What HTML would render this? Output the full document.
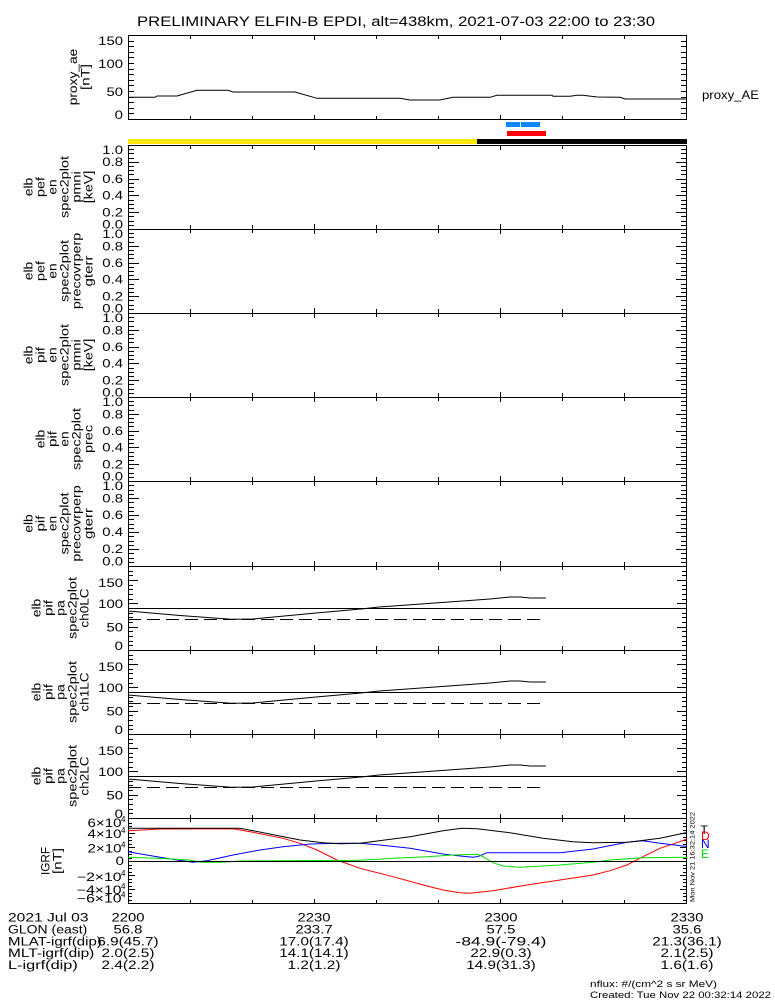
<!DOCTYPE html>
<html><head><meta charset="utf-8"><style>
html,body{margin:0;padding:0;background:#fff;}
svg{display:block;}
text{font-family:"Liberation Sans",sans-serif;fill:#000;}
</style></head><body>
<svg width="775" height="1000" viewBox="0 0 775 1000" xmlns="http://www.w3.org/2000/svg">
<rect width="775" height="1000" fill="#fff"/>

<!-- title -->
<text x="137" y="26" font-size="13.5" textLength="518" lengthAdjust="spacingAndGlyphs">PRELIMINARY ELFIN-B EPDI, alt=438km, 2021-07-03 22:00 to 23:30</text>

<!-- frames -->
<g fill="none" stroke="#000" stroke-width="1" shape-rendering="crispEdges">
<rect x="128.5" y="35.5" width="558" height="84"/>
<rect x="128.5" y="145.5" width="558" height="84"/>
<rect x="128.5" y="229.5" width="558" height="84"/>
<rect x="128.5" y="313.5" width="558" height="84"/>
<rect x="128.5" y="397.5" width="558" height="84"/>
<rect x="128.5" y="481.5" width="558" height="85"/>
<rect x="128.5" y="566.5" width="558" height="84"/>
<rect x="128.5" y="650.5" width="558" height="84"/>
<rect x="128.5" y="734.5" width="558" height="84"/>
<rect x="128.5" y="818.5" width="558" height="85"/>
</g>

<!-- ticks as rects -->
<g fill="#000" shape-rendering="crispEdges">
<!-- top panel y ticks -->
<rect x="128" y="41" width="6" height="1"/><rect x="681" y="41" width="6" height="1"/>
<rect x="128" y="46" width="6" height="1"/><rect x="681" y="46" width="6" height="1"/>
<rect x="128" y="52" width="6" height="1"/><rect x="681" y="52" width="6" height="1"/>
<rect x="128" y="57" width="6" height="1"/><rect x="681" y="57" width="6" height="1"/>
<rect x="128" y="63" width="6" height="1"/><rect x="681" y="63" width="6" height="1"/>
<rect x="128" y="69" width="6" height="1"/><rect x="681" y="69" width="6" height="1"/>
<rect x="128" y="74" width="6" height="1"/><rect x="681" y="74" width="6" height="1"/>
<rect x="128" y="80" width="6" height="1"/><rect x="681" y="80" width="6" height="1"/>
<rect x="128" y="85" width="6" height="1"/><rect x="681" y="85" width="6" height="1"/>
<rect x="128" y="91" width="6" height="1"/><rect x="681" y="91" width="6" height="1"/>
<rect x="128" y="97" width="6" height="1"/><rect x="681" y="97" width="6" height="1"/>
<rect x="128" y="102" width="6" height="1"/><rect x="681" y="102" width="6" height="1"/>
<rect x="128" y="108" width="6" height="1"/><rect x="681" y="108" width="6" height="1"/>
<rect x="128" y="113" width="6" height="1"/><rect x="681" y="113" width="6" height="1"/>

<!-- spec panel 1 -->
<rect x="128" y="149" width="6" height="1"/><rect x="681" y="149" width="6" height="1"/>
<rect x="128" y="153" width="6" height="1"/><rect x="681" y="153" width="6" height="1"/>
<rect x="128" y="158" width="6" height="1"/><rect x="681" y="158" width="6" height="1"/>
<rect x="128" y="166" width="6" height="1"/><rect x="681" y="166" width="6" height="1"/>
<rect x="128" y="170" width="6" height="1"/><rect x="681" y="170" width="6" height="1"/>
<rect x="128" y="174" width="6" height="1"/><rect x="681" y="174" width="6" height="1"/>
<rect x="128" y="183" width="6" height="1"/><rect x="681" y="183" width="6" height="1"/>
<rect x="128" y="187" width="6" height="1"/><rect x="681" y="187" width="6" height="1"/>
<rect x="128" y="191" width="6" height="1"/><rect x="681" y="191" width="6" height="1"/>
<rect x="128" y="200" width="6" height="1"/><rect x="681" y="200" width="6" height="1"/>
<rect x="128" y="204" width="6" height="1"/><rect x="681" y="204" width="6" height="1"/>
<rect x="128" y="208" width="6" height="1"/><rect x="681" y="208" width="6" height="1"/>
<rect x="128" y="216" width="6" height="1"/><rect x="681" y="216" width="6" height="1"/>
<rect x="128" y="221" width="6" height="1"/><rect x="681" y="221" width="6" height="1"/>
<rect x="128" y="225" width="6" height="1"/><rect x="681" y="225" width="6" height="1"/>
<rect x="128" y="162" width="11" height="1"/><rect x="676" y="162" width="11" height="1"/>
<rect x="128" y="179" width="11" height="1"/><rect x="676" y="179" width="11" height="1"/>
<rect x="128" y="195" width="11" height="1"/><rect x="676" y="195" width="11" height="1"/>
<rect x="128" y="212" width="11" height="1"/><rect x="676" y="212" width="11" height="1"/>

<!-- spec panel 2 -->
<rect x="128" y="233" width="6" height="1"/><rect x="681" y="233" width="6" height="1"/>
<rect x="128" y="237" width="6" height="1"/><rect x="681" y="237" width="6" height="1"/>
<rect x="128" y="242" width="6" height="1"/><rect x="681" y="242" width="6" height="1"/>
<rect x="128" y="250" width="6" height="1"/><rect x="681" y="250" width="6" height="1"/>
<rect x="128" y="254" width="6" height="1"/><rect x="681" y="254" width="6" height="1"/>
<rect x="128" y="258" width="6" height="1"/><rect x="681" y="258" width="6" height="1"/>
<rect x="128" y="267" width="6" height="1"/><rect x="681" y="267" width="6" height="1"/>
<rect x="128" y="271" width="6" height="1"/><rect x="681" y="271" width="6" height="1"/>
<rect x="128" y="275" width="6" height="1"/><rect x="681" y="275" width="6" height="1"/>
<rect x="128" y="284" width="6" height="1"/><rect x="681" y="284" width="6" height="1"/>
<rect x="128" y="288" width="6" height="1"/><rect x="681" y="288" width="6" height="1"/>
<rect x="128" y="292" width="6" height="1"/><rect x="681" y="292" width="6" height="1"/>
<rect x="128" y="300" width="6" height="1"/><rect x="681" y="300" width="6" height="1"/>
<rect x="128" y="305" width="6" height="1"/><rect x="681" y="305" width="6" height="1"/>
<rect x="128" y="309" width="6" height="1"/><rect x="681" y="309" width="6" height="1"/>
<rect x="128" y="246" width="11" height="1"/><rect x="676" y="246" width="11" height="1"/>
<rect x="128" y="263" width="11" height="1"/><rect x="676" y="263" width="11" height="1"/>
<rect x="128" y="279" width="11" height="1"/><rect x="676" y="279" width="11" height="1"/>
<rect x="128" y="296" width="11" height="1"/><rect x="676" y="296" width="11" height="1"/>

<!-- spec panel 3 -->
<rect x="128" y="317" width="6" height="1"/><rect x="681" y="317" width="6" height="1"/>
<rect x="128" y="321" width="6" height="1"/><rect x="681" y="321" width="6" height="1"/>
<rect x="128" y="326" width="6" height="1"/><rect x="681" y="326" width="6" height="1"/>
<rect x="128" y="334" width="6" height="1"/><rect x="681" y="334" width="6" height="1"/>
<rect x="128" y="338" width="6" height="1"/><rect x="681" y="338" width="6" height="1"/>
<rect x="128" y="342" width="6" height="1"/><rect x="681" y="342" width="6" height="1"/>
<rect x="128" y="351" width="6" height="1"/><rect x="681" y="351" width="6" height="1"/>
<rect x="128" y="355" width="6" height="1"/><rect x="681" y="355" width="6" height="1"/>
<rect x="128" y="359" width="6" height="1"/><rect x="681" y="359" width="6" height="1"/>
<rect x="128" y="368" width="6" height="1"/><rect x="681" y="368" width="6" height="1"/>
<rect x="128" y="372" width="6" height="1"/><rect x="681" y="372" width="6" height="1"/>
<rect x="128" y="376" width="6" height="1"/><rect x="681" y="376" width="6" height="1"/>
<rect x="128" y="384" width="6" height="1"/><rect x="681" y="384" width="6" height="1"/>
<rect x="128" y="389" width="6" height="1"/><rect x="681" y="389" width="6" height="1"/>
<rect x="128" y="393" width="6" height="1"/><rect x="681" y="393" width="6" height="1"/>
<rect x="128" y="330" width="11" height="1"/><rect x="676" y="330" width="11" height="1"/>
<rect x="128" y="347" width="11" height="1"/><rect x="676" y="347" width="11" height="1"/>
<rect x="128" y="363" width="11" height="1"/><rect x="676" y="363" width="11" height="1"/>
<rect x="128" y="380" width="11" height="1"/><rect x="676" y="380" width="11" height="1"/>

<!-- spec panel 4 -->
<rect x="128" y="401" width="6" height="1"/><rect x="681" y="401" width="6" height="1"/>
<rect x="128" y="405" width="6" height="1"/><rect x="681" y="405" width="6" height="1"/>
<rect x="128" y="410" width="6" height="1"/><rect x="681" y="410" width="6" height="1"/>
<rect x="128" y="418" width="6" height="1"/><rect x="681" y="418" width="6" height="1"/>
<rect x="128" y="422" width="6" height="1"/><rect x="681" y="422" width="6" height="1"/>
<rect x="128" y="426" width="6" height="1"/><rect x="681" y="426" width="6" height="1"/>
<rect x="128" y="435" width="6" height="1"/><rect x="681" y="435" width="6" height="1"/>
<rect x="128" y="439" width="6" height="1"/><rect x="681" y="439" width="6" height="1"/>
<rect x="128" y="443" width="6" height="1"/><rect x="681" y="443" width="6" height="1"/>
<rect x="128" y="452" width="6" height="1"/><rect x="681" y="452" width="6" height="1"/>
<rect x="128" y="456" width="6" height="1"/><rect x="681" y="456" width="6" height="1"/>
<rect x="128" y="460" width="6" height="1"/><rect x="681" y="460" width="6" height="1"/>
<rect x="128" y="468" width="6" height="1"/><rect x="681" y="468" width="6" height="1"/>
<rect x="128" y="473" width="6" height="1"/><rect x="681" y="473" width="6" height="1"/>
<rect x="128" y="477" width="6" height="1"/><rect x="681" y="477" width="6" height="1"/>
<rect x="128" y="414" width="11" height="1"/><rect x="676" y="414" width="11" height="1"/>
<rect x="128" y="431" width="11" height="1"/><rect x="676" y="431" width="11" height="1"/>
<rect x="128" y="447" width="11" height="1"/><rect x="676" y="447" width="11" height="1"/>
<rect x="128" y="464" width="11" height="1"/><rect x="676" y="464" width="11" height="1"/>

<!-- spec panel 5 -->
<rect x="128" y="485" width="6" height="1"/><rect x="681" y="485" width="6" height="1"/>
<rect x="128" y="490" width="6" height="1"/><rect x="681" y="490" width="6" height="1"/>
<rect x="128" y="494" width="6" height="1"/><rect x="681" y="494" width="6" height="1"/>
<rect x="128" y="502" width="6" height="1"/><rect x="681" y="502" width="6" height="1"/>
<rect x="128" y="507" width="6" height="1"/><rect x="681" y="507" width="6" height="1"/>
<rect x="128" y="511" width="6" height="1"/><rect x="681" y="511" width="6" height="1"/>
<rect x="128" y="519" width="6" height="1"/><rect x="681" y="519" width="6" height="1"/>
<rect x="128" y="524" width="6" height="1"/><rect x="681" y="524" width="6" height="1"/>
<rect x="128" y="528" width="6" height="1"/><rect x="681" y="528" width="6" height="1"/>
<rect x="128" y="536" width="6" height="1"/><rect x="681" y="536" width="6" height="1"/>
<rect x="128" y="541" width="6" height="1"/><rect x="681" y="541" width="6" height="1"/>
<rect x="128" y="545" width="6" height="1"/><rect x="681" y="545" width="6" height="1"/>
<rect x="128" y="553" width="6" height="1"/><rect x="681" y="553" width="6" height="1"/>
<rect x="128" y="558" width="6" height="1"/><rect x="681" y="558" width="6" height="1"/>
<rect x="128" y="562" width="6" height="1"/><rect x="681" y="562" width="6" height="1"/>
<rect x="128" y="498" width="11" height="1"/><rect x="676" y="498" width="11" height="1"/>
<rect x="128" y="515" width="11" height="1"/><rect x="676" y="515" width="11" height="1"/>
<rect x="128" y="532" width="11" height="1"/><rect x="676" y="532" width="11" height="1"/>
<rect x="128" y="549" width="11" height="1"/><rect x="676" y="549" width="11" height="1"/>

<!-- PA panel 0 -->
<rect x="128" y="571" width="5" height="1"/><rect x="682" y="571" width="5" height="1"/>
<rect x="128" y="575" width="5" height="1"/><rect x="682" y="575" width="5" height="1"/>
<rect x="128" y="585" width="5" height="1"/><rect x="682" y="585" width="5" height="1"/>
<rect x="128" y="589" width="5" height="1"/><rect x="682" y="589" width="5" height="1"/>
<rect x="128" y="594" width="5" height="1"/><rect x="682" y="594" width="5" height="1"/>
<rect x="128" y="599" width="5" height="1"/><rect x="682" y="599" width="5" height="1"/>
<rect x="128" y="613" width="5" height="1"/><rect x="682" y="613" width="5" height="1"/>
<rect x="128" y="617" width="5" height="1"/><rect x="682" y="617" width="5" height="1"/>
<rect x="128" y="622" width="5" height="1"/><rect x="682" y="622" width="5" height="1"/>
<rect x="128" y="631" width="5" height="1"/><rect x="682" y="631" width="5" height="1"/>
<rect x="128" y="636" width="5" height="1"/><rect x="682" y="636" width="5" height="1"/>
<rect x="128" y="641" width="5" height="1"/><rect x="682" y="641" width="5" height="1"/>
<rect x="128" y="645" width="5" height="1"/><rect x="682" y="645" width="5" height="1"/>
<rect x="128" y="580" width="10" height="1"/><rect x="677" y="580" width="10" height="1"/>
<rect x="128" y="603" width="10" height="1"/><rect x="677" y="603" width="10" height="1"/>
<rect x="128" y="627" width="10" height="1"/><rect x="677" y="627" width="10" height="1"/>

<!-- PA panel 1 -->
<rect x="128" y="655" width="5" height="1"/><rect x="682" y="655" width="5" height="1"/>
<rect x="128" y="659" width="5" height="1"/><rect x="682" y="659" width="5" height="1"/>
<rect x="128" y="669" width="5" height="1"/><rect x="682" y="669" width="5" height="1"/>
<rect x="128" y="673" width="5" height="1"/><rect x="682" y="673" width="5" height="1"/>
<rect x="128" y="678" width="5" height="1"/><rect x="682" y="678" width="5" height="1"/>
<rect x="128" y="683" width="5" height="1"/><rect x="682" y="683" width="5" height="1"/>
<rect x="128" y="697" width="5" height="1"/><rect x="682" y="697" width="5" height="1"/>
<rect x="128" y="701" width="5" height="1"/><rect x="682" y="701" width="5" height="1"/>
<rect x="128" y="706" width="5" height="1"/><rect x="682" y="706" width="5" height="1"/>
<rect x="128" y="715" width="5" height="1"/><rect x="682" y="715" width="5" height="1"/>
<rect x="128" y="720" width="5" height="1"/><rect x="682" y="720" width="5" height="1"/>
<rect x="128" y="725" width="5" height="1"/><rect x="682" y="725" width="5" height="1"/>
<rect x="128" y="729" width="5" height="1"/><rect x="682" y="729" width="5" height="1"/>
<rect x="128" y="664" width="10" height="1"/><rect x="677" y="664" width="10" height="1"/>
<rect x="128" y="687" width="10" height="1"/><rect x="677" y="687" width="10" height="1"/>
<rect x="128" y="711" width="10" height="1"/><rect x="677" y="711" width="10" height="1"/>

<!-- PA panel 2 -->
<rect x="128" y="739" width="5" height="1"/><rect x="682" y="739" width="5" height="1"/>
<rect x="128" y="743" width="5" height="1"/><rect x="682" y="743" width="5" height="1"/>
<rect x="128" y="753" width="5" height="1"/><rect x="682" y="753" width="5" height="1"/>
<rect x="128" y="757" width="5" height="1"/><rect x="682" y="757" width="5" height="1"/>
<rect x="128" y="762" width="5" height="1"/><rect x="682" y="762" width="5" height="1"/>
<rect x="128" y="767" width="5" height="1"/><rect x="682" y="767" width="5" height="1"/>
<rect x="128" y="781" width="5" height="1"/><rect x="682" y="781" width="5" height="1"/>
<rect x="128" y="785" width="5" height="1"/><rect x="682" y="785" width="5" height="1"/>
<rect x="128" y="790" width="5" height="1"/><rect x="682" y="790" width="5" height="1"/>
<rect x="128" y="799" width="5" height="1"/><rect x="682" y="799" width="5" height="1"/>
<rect x="128" y="804" width="5" height="1"/><rect x="682" y="804" width="5" height="1"/>
<rect x="128" y="809" width="5" height="1"/><rect x="682" y="809" width="5" height="1"/>
<rect x="128" y="813" width="5" height="1"/><rect x="682" y="813" width="5" height="1"/>
<rect x="128" y="748" width="10" height="1"/><rect x="677" y="748" width="10" height="1"/>
<rect x="128" y="771" width="10" height="1"/><rect x="677" y="771" width="10" height="1"/>
<rect x="128" y="795" width="10" height="1"/><rect x="677" y="795" width="10" height="1"/>

<!-- GRF -->
<rect x="128" y="823" width="4" height="1"/><rect x="683" y="823" width="4" height="1"/>
<rect x="128" y="826" width="4" height="1"/><rect x="683" y="826" width="4" height="1"/>
<rect x="128" y="830" width="4" height="1"/><rect x="683" y="830" width="4" height="1"/>
<rect x="128" y="837" width="4" height="1"/><rect x="683" y="837" width="4" height="1"/>
<rect x="128" y="840" width="4" height="1"/><rect x="683" y="840" width="4" height="1"/>
<rect x="128" y="844" width="4" height="1"/><rect x="683" y="844" width="4" height="1"/>
<rect x="128" y="851" width="4" height="1"/><rect x="683" y="851" width="4" height="1"/>
<rect x="128" y="854" width="4" height="1"/><rect x="683" y="854" width="4" height="1"/>
<rect x="128" y="858" width="4" height="1"/><rect x="683" y="858" width="4" height="1"/>
<rect x="128" y="865" width="4" height="1"/><rect x="683" y="865" width="4" height="1"/>
<rect x="128" y="868" width="4" height="1"/><rect x="683" y="868" width="4" height="1"/>
<rect x="128" y="872" width="4" height="1"/><rect x="683" y="872" width="4" height="1"/>
<rect x="128" y="879" width="4" height="1"/><rect x="683" y="879" width="4" height="1"/>
<rect x="128" y="882" width="4" height="1"/><rect x="683" y="882" width="4" height="1"/>
<rect x="128" y="886" width="4" height="1"/><rect x="683" y="886" width="4" height="1"/>
<rect x="128" y="893" width="4" height="1"/><rect x="683" y="893" width="4" height="1"/>
<rect x="128" y="896" width="4" height="1"/><rect x="683" y="896" width="4" height="1"/>
<rect x="128" y="900" width="4" height="1"/><rect x="683" y="900" width="4" height="1"/>
<rect x="128" y="833" width="7" height="1"/><rect x="680" y="833" width="7" height="1"/>
<rect x="128" y="847" width="7" height="1"/><rect x="680" y="847" width="7" height="1"/>
<rect x="128" y="875" width="7" height="1"/><rect x="680" y="875" width="7" height="1"/>
<rect x="128" y="889" width="7" height="1"/><rect x="680" y="889" width="7" height="1"/>

<!-- x ticks -->
<rect x="190" y="35" width="1" height="4"/><rect x="252" y="35" width="1" height="4"/><rect x="314" y="35" width="1" height="5"/><rect x="376" y="35" width="1" height="4"/><rect x="438" y="35" width="1" height="4"/><rect x="500" y="35" width="1" height="5"/><rect x="562" y="35" width="1" height="4"/><rect x="624" y="35" width="1" height="4"/>
<rect x="190" y="116" width="1" height="4"/><rect x="252" y="116" width="1" height="4"/><rect x="314" y="115" width="1" height="5"/><rect x="376" y="116" width="1" height="4"/><rect x="438" y="116" width="1" height="4"/><rect x="500" y="115" width="1" height="5"/><rect x="562" y="116" width="1" height="4"/><rect x="624" y="116" width="1" height="4"/>
<rect x="190" y="145" width="1" height="4"/><rect x="252" y="145" width="1" height="4"/><rect x="314" y="145" width="1" height="5"/><rect x="376" y="145" width="1" height="4"/><rect x="438" y="145" width="1" height="4"/><rect x="500" y="145" width="1" height="5"/><rect x="562" y="145" width="1" height="4"/><rect x="624" y="145" width="1" height="4"/>
<rect x="190" y="225" width="1" height="8"/><rect x="252" y="225" width="1" height="8"/><rect x="314" y="224" width="1" height="10"/><rect x="376" y="225" width="1" height="8"/><rect x="438" y="225" width="1" height="8"/><rect x="500" y="224" width="1" height="10"/><rect x="562" y="225" width="1" height="8"/><rect x="624" y="225" width="1" height="8"/>
<rect x="190" y="309" width="1" height="8"/><rect x="252" y="309" width="1" height="8"/><rect x="314" y="308" width="1" height="10"/><rect x="376" y="309" width="1" height="8"/><rect x="438" y="309" width="1" height="8"/><rect x="500" y="308" width="1" height="10"/><rect x="562" y="309" width="1" height="8"/><rect x="624" y="309" width="1" height="8"/>
<rect x="190" y="393" width="1" height="8"/><rect x="252" y="393" width="1" height="8"/><rect x="314" y="392" width="1" height="10"/><rect x="376" y="393" width="1" height="8"/><rect x="438" y="393" width="1" height="8"/><rect x="500" y="392" width="1" height="10"/><rect x="562" y="393" width="1" height="8"/><rect x="624" y="393" width="1" height="8"/>
<rect x="190" y="477" width="1" height="8"/><rect x="252" y="477" width="1" height="8"/><rect x="314" y="476" width="1" height="10"/><rect x="376" y="477" width="1" height="8"/><rect x="438" y="477" width="1" height="8"/><rect x="500" y="476" width="1" height="10"/><rect x="562" y="477" width="1" height="8"/><rect x="624" y="477" width="1" height="8"/>
<rect x="190" y="562" width="1" height="8"/><rect x="252" y="562" width="1" height="8"/><rect x="314" y="561" width="1" height="10"/><rect x="376" y="562" width="1" height="8"/><rect x="438" y="562" width="1" height="8"/><rect x="500" y="561" width="1" height="10"/><rect x="562" y="562" width="1" height="8"/><rect x="624" y="562" width="1" height="8"/>
<rect x="190" y="646" width="1" height="8"/><rect x="252" y="646" width="1" height="8"/><rect x="314" y="645" width="1" height="10"/><rect x="376" y="646" width="1" height="8"/><rect x="438" y="646" width="1" height="8"/><rect x="500" y="645" width="1" height="10"/><rect x="562" y="646" width="1" height="8"/><rect x="624" y="646" width="1" height="8"/>
<rect x="190" y="730" width="1" height="8"/><rect x="252" y="730" width="1" height="8"/><rect x="314" y="729" width="1" height="10"/><rect x="376" y="730" width="1" height="8"/><rect x="438" y="730" width="1" height="8"/><rect x="500" y="729" width="1" height="10"/><rect x="562" y="730" width="1" height="8"/><rect x="624" y="730" width="1" height="8"/>
<rect x="190" y="815" width="1" height="7"/><rect x="252" y="815" width="1" height="7"/><rect x="314" y="814" width="1" height="9"/><rect x="376" y="815" width="1" height="7"/><rect x="438" y="815" width="1" height="7"/><rect x="500" y="814" width="1" height="9"/><rect x="562" y="815" width="1" height="7"/><rect x="624" y="815" width="1" height="7"/>
<rect x="190" y="900" width="1" height="4"/><rect x="252" y="900" width="1" height="4"/><rect x="314" y="899" width="1" height="5"/><rect x="376" y="900" width="1" height="4"/><rect x="438" y="900" width="1" height="4"/><rect x="500" y="899" width="1" height="5"/><rect x="562" y="900" width="1" height="4"/><rect x="624" y="900" width="1" height="4"/>
</g>

<!-- colored bars -->
<rect x="506" y="122" width="14" height="5" fill="#0a87ff"/>
<rect x="521" y="122" width="19" height="5" fill="#0a87ff"/>
<rect x="507" y="131" width="39" height="5" fill="#ff0000"/>
<rect x="128" y="139" width="349" height="5" fill="#ffe600"/>
<rect x="477" y="139" width="210" height="5" fill="#000"/>

<!-- top panel data -->
<polyline fill="none" stroke="#000" stroke-width="1" points="128,97.3 155,97.3 157,96 177,96 197,90.3 228,90.3 233,92 295,92 317,98.3 400,98.3 410,100 440,100 453,97.3 490,97.3 497,95.3 552,95.3 553,96.3 570,96.3 577,95.3 583,95.3 597,97 620,97.3 625,99 687,99"/>

<!-- PA panels -->
<g fill="none" stroke="#000" stroke-width="1">
<line x1="128" y1="608.5" x2="687" y2="608.5" shape-rendering="crispEdges"/>
<line x1="128" y1="619.5" x2="545" y2="619.5" stroke-dasharray="13 6" shape-rendering="crispEdges"/>
<polyline points="128,611 180,615.5 231,619.3 253,619 316,613 361,609 379,607 435,603 490,599 510,597 520,597 530,598 546,598"/>
<line x1="128" y1="692.5" x2="687" y2="692.5" shape-rendering="crispEdges"/>
<line x1="128" y1="703.5" x2="545" y2="703.5" stroke-dasharray="13 6" shape-rendering="crispEdges"/>
<polyline points="128,695 180,699.5 231,703.3 253,703 316,697 361,693 379,691 435,687 490,683 510,681 520,681 530,682 546,682"/>
<line x1="128" y1="776.5" x2="687" y2="776.5" shape-rendering="crispEdges"/>
<line x1="128" y1="787.5" x2="545" y2="787.5" stroke-dasharray="13 6" shape-rendering="crispEdges"/>
<polyline points="128,779 180,783.5 231,787.3 253,787 316,781 361,777 379,775 435,771 490,767 510,765 520,765 530,766 546,766"/>
</g>

<!-- GRF panel -->
<g fill="none" stroke-width="1">
<polyline stroke="#ff0000" points="128,830.7 160,829 233,828.8 253,832.3 283,838.3 300,843.3 317,850 337,860 360,868.3 393,876.7 427,886 443,890 460,892.7 470,893.3 493,890.7 527,885 560,880 593,875 610,870.7 627,865 643,856.7 660,848.3 677,842.7 687,839"/>
<polyline stroke="#0000ff" points="128,851.7 157,856.7 177,860 193,862.3 207,860.7 233,855 260,850 283,846.7 310,844 340,843.3 360,843.3 380,845 410,848.3 443,854 460,856 473,857.3 478,856.5 487,852.7 510,852.7 560,852.7 593,849 627,842.3 643,840.7 660,843.3 687,846.5"/>
<polyline stroke="#00e000" points="128,857.3 157,858.3 190,860 200,862.3 222,862.3 240,861 360,860.3 393,858.3 427,856.7 453,855 477,854.3 483,856.7 493,862.7 503,866 520,867.3 560,865 593,862.3 610,860 643,857.7 687,857.3"/>
<polyline stroke="#000" points="128,828.3 240,828.3 253,830.7 300,840 323,842.7 340,843.7 360,843.3 410,836.7 443,830.7 462,828.3 477,828.7 510,832.7 543,838.3 573,841.7 593,842.7 627,842.3 660,838.3 687,832.5"/>
<line x1="128" y1="861.5" x2="687" y2="861.5" stroke="#000" shape-rendering="crispEdges"/>
</g>

<!-- tick labels -->
<g font-size="11.5" text-anchor="end">
<text x="123" y="45.2" textLength="24.8" lengthAdjust="spacingAndGlyphs">150</text>
<text x="123" y="68.2" textLength="24.8" lengthAdjust="spacingAndGlyphs">100</text>
<text x="123" y="96.2" textLength="16.5" lengthAdjust="spacingAndGlyphs">50</text>
<text x="123" y="119.2" textLength="8.3" lengthAdjust="spacingAndGlyphs">0</text>

<text x="123" y="154.2" textLength="20.7" lengthAdjust="spacingAndGlyphs">1.0</text>
<text x="123" y="166.2" textLength="20.7" lengthAdjust="spacingAndGlyphs">0.8</text>
<text x="123" y="182.8" textLength="20.7" lengthAdjust="spacingAndGlyphs">0.6</text>
<text x="123" y="199.6" textLength="20.7" lengthAdjust="spacingAndGlyphs">0.4</text>
<text x="123" y="216.4" textLength="20.7" lengthAdjust="spacingAndGlyphs">0.2</text>
<text x="123" y="228.7" textLength="20.7" lengthAdjust="spacingAndGlyphs">0.0</text>

<text x="123" y="238.2" textLength="20.7" lengthAdjust="spacingAndGlyphs">1.0</text>
<text x="123" y="250.5" textLength="20.7" lengthAdjust="spacingAndGlyphs">0.8</text>
<text x="123" y="266.8" textLength="20.7" lengthAdjust="spacingAndGlyphs">0.6</text>
<text x="123" y="283.6" textLength="20.7" lengthAdjust="spacingAndGlyphs">0.4</text>
<text x="123" y="300.4" textLength="20.7" lengthAdjust="spacingAndGlyphs">0.2</text>
<text x="123" y="312.7" textLength="20.7" lengthAdjust="spacingAndGlyphs">0.0</text>

<text x="123" y="322.2" textLength="20.7" lengthAdjust="spacingAndGlyphs">1.0</text>
<text x="123" y="334.5" textLength="20.7" lengthAdjust="spacingAndGlyphs">0.8</text>
<text x="123" y="350.8" textLength="20.7" lengthAdjust="spacingAndGlyphs">0.6</text>
<text x="123" y="367.6" textLength="20.7" lengthAdjust="spacingAndGlyphs">0.4</text>
<text x="123" y="384.4" textLength="20.7" lengthAdjust="spacingAndGlyphs">0.2</text>
<text x="123" y="396.7" textLength="20.7" lengthAdjust="spacingAndGlyphs">0.0</text>

<text x="123" y="406.2" textLength="20.7" lengthAdjust="spacingAndGlyphs">1.0</text>
<text x="123" y="418.5" textLength="20.7" lengthAdjust="spacingAndGlyphs">0.8</text>
<text x="123" y="434.8" textLength="20.7" lengthAdjust="spacingAndGlyphs">0.6</text>
<text x="123" y="451.6" textLength="20.7" lengthAdjust="spacingAndGlyphs">0.4</text>
<text x="123" y="468.4" textLength="20.7" lengthAdjust="spacingAndGlyphs">0.2</text>
<text x="123" y="480.7" textLength="20.7" lengthAdjust="spacingAndGlyphs">0.0</text>

<text x="123" y="490.2" textLength="20.7" lengthAdjust="spacingAndGlyphs">1.0</text>
<text x="123" y="502.7" textLength="20.7" lengthAdjust="spacingAndGlyphs">0.8</text>
<text x="123" y="519.2" textLength="20.7" lengthAdjust="spacingAndGlyphs">0.6</text>
<text x="123" y="536.2" textLength="20.7" lengthAdjust="spacingAndGlyphs">0.4</text>
<text x="123" y="553.2" textLength="20.7" lengthAdjust="spacingAndGlyphs">0.2</text>
<text x="123" y="565.7" textLength="20.7" lengthAdjust="spacingAndGlyphs">0.0</text>

<text x="123" y="587.2" textLength="24.8" lengthAdjust="spacingAndGlyphs">150</text>
<text x="123" y="608.2" textLength="24.8" lengthAdjust="spacingAndGlyphs">100</text>
<text x="123" y="631.5" textLength="16.5" lengthAdjust="spacingAndGlyphs">50</text>
<text x="123" y="650.2" textLength="8.3" lengthAdjust="spacingAndGlyphs">0</text>

<text x="123" y="671.2" textLength="24.8" lengthAdjust="spacingAndGlyphs">150</text>
<text x="123" y="692.2" textLength="24.8" lengthAdjust="spacingAndGlyphs">100</text>
<text x="123" y="715.5" textLength="16.5" lengthAdjust="spacingAndGlyphs">50</text>
<text x="123" y="734.2" textLength="8.3" lengthAdjust="spacingAndGlyphs">0</text>

<text x="123" y="755.2" textLength="24.8" lengthAdjust="spacingAndGlyphs">150</text>
<text x="123" y="776.2" textLength="24.8" lengthAdjust="spacingAndGlyphs">100</text>
<text x="123" y="799.5" textLength="16.5" lengthAdjust="spacingAndGlyphs">50</text>
<text x="123" y="818.2" textLength="8.3" lengthAdjust="spacingAndGlyphs">0</text>

<text x="121.5" y="827.2" textLength="34" lengthAdjust="spacingAndGlyphs">6×10</text>
<text x="121.5" y="838.2" textLength="34" lengthAdjust="spacingAndGlyphs">4×10</text>
<text x="121.5" y="852.7" textLength="34" lengthAdjust="spacingAndGlyphs">2×10</text>
<text x="124" y="865.2" textLength="8.3" lengthAdjust="spacingAndGlyphs">0</text>
<text x="121.5" y="881.2" textLength="44.6" lengthAdjust="spacingAndGlyphs">−2×10</text>
<text x="121.5" y="894.2" textLength="44.6" lengthAdjust="spacingAndGlyphs">−4×10</text>
<text x="121.5" y="902.7" textLength="44.6" lengthAdjust="spacingAndGlyphs">−6×10</text>
</g>
<g font-size="8">
<text x="121" y="822">4</text>
<text x="121" y="833">4</text>
<text x="121" y="847.5">4</text>
<text x="121" y="876">4</text>
<text x="121" y="889">4</text>
<text x="121" y="897.5">4</text>
</g>

<!-- rotated axis titles -->
<g font-size="11.5" text-anchor="middle">
<text transform="translate(77,77) rotate(-90)" textLength="56.6" lengthAdjust="spacingAndGlyphs">proxy_ae</text>
<text transform="translate(89.5,77) rotate(-90)" textLength="26" lengthAdjust="spacingAndGlyphs">[nT]</text>

<text transform="translate(32.5,187) rotate(-90)" textLength="18.6" lengthAdjust="spacingAndGlyphs">elb</text>
<text transform="translate(44.5,187) rotate(-90)" textLength="20.2" lengthAdjust="spacingAndGlyphs">pef</text>
<text transform="translate(56.5,187) rotate(-90)" textLength="15.3" lengthAdjust="spacingAndGlyphs">en</text>
<text transform="translate(68.5,187) rotate(-90)" textLength="62" lengthAdjust="spacingAndGlyphs">spec2plot</text>
<text transform="translate(80.5,187) rotate(-90)" textLength="31.4" lengthAdjust="spacingAndGlyphs">pmni</text>
<text transform="translate(92.5,187) rotate(-90)" textLength="32.6" lengthAdjust="spacingAndGlyphs">[keV]</text>

<text transform="translate(32.5,271) rotate(-90)" textLength="18.6" lengthAdjust="spacingAndGlyphs">elb</text>
<text transform="translate(44.5,271) rotate(-90)" textLength="20.2" lengthAdjust="spacingAndGlyphs">pef</text>
<text transform="translate(56.5,271) rotate(-90)" textLength="15.3" lengthAdjust="spacingAndGlyphs">en</text>
<text transform="translate(68.5,271) rotate(-90)" textLength="62" lengthAdjust="spacingAndGlyphs">spec2plot</text>
<text transform="translate(80.5,271) rotate(-90)" textLength="76.4" lengthAdjust="spacingAndGlyphs">precovrperp</text>
<text transform="translate(92.5,271) rotate(-90)" textLength="31" lengthAdjust="spacingAndGlyphs">gterr</text>

<text transform="translate(32.5,355) rotate(-90)" textLength="18.6" lengthAdjust="spacingAndGlyphs">elb</text>
<text transform="translate(44.5,355) rotate(-90)" textLength="16.1" lengthAdjust="spacingAndGlyphs">pif</text>
<text transform="translate(56.5,355) rotate(-90)" textLength="15.3" lengthAdjust="spacingAndGlyphs">en</text>
<text transform="translate(68.5,355) rotate(-90)" textLength="62" lengthAdjust="spacingAndGlyphs">spec2plot</text>
<text transform="translate(80.5,355) rotate(-90)" textLength="31.4" lengthAdjust="spacingAndGlyphs">pmni</text>
<text transform="translate(92.5,355) rotate(-90)" textLength="32.6" lengthAdjust="spacingAndGlyphs">[keV]</text>

<text transform="translate(44.5,439) rotate(-90)" textLength="18.6" lengthAdjust="spacingAndGlyphs">elb</text>
<text transform="translate(56.5,439) rotate(-90)" textLength="16.1" lengthAdjust="spacingAndGlyphs">pif</text>
<text transform="translate(68.5,439) rotate(-90)" textLength="15.3" lengthAdjust="spacingAndGlyphs">en</text>
<text transform="translate(80.5,439) rotate(-90)" textLength="62" lengthAdjust="spacingAndGlyphs">spec2plot</text>
<text transform="translate(92.5,439) rotate(-90)" textLength="28.1" lengthAdjust="spacingAndGlyphs">prec</text>

<text transform="translate(32.5,523.5) rotate(-90)" textLength="18.6" lengthAdjust="spacingAndGlyphs">elb</text>
<text transform="translate(44.5,523.5) rotate(-90)" textLength="16.1" lengthAdjust="spacingAndGlyphs">pif</text>
<text transform="translate(56.5,523.5) rotate(-90)" textLength="15.3" lengthAdjust="spacingAndGlyphs">en</text>
<text transform="translate(68.5,523.5) rotate(-90)" textLength="62" lengthAdjust="spacingAndGlyphs">spec2plot</text>
<text transform="translate(80.5,523.5) rotate(-90)" textLength="76.4" lengthAdjust="spacingAndGlyphs">precovrperp</text>
<text transform="translate(92.5,523.5) rotate(-90)" textLength="31" lengthAdjust="spacingAndGlyphs">gterr</text>

<text transform="translate(40.5,608) rotate(-90)" textLength="18.6" lengthAdjust="spacingAndGlyphs">elb</text>
<text transform="translate(52.5,608) rotate(-90)" textLength="16.1" lengthAdjust="spacingAndGlyphs">pif</text>
<text transform="translate(64.5,608) rotate(-90)" textLength="15.7" lengthAdjust="spacingAndGlyphs">pa</text>
<text transform="translate(76.5,608) rotate(-90)" textLength="62" lengthAdjust="spacingAndGlyphs">spec2plot</text>
<text transform="translate(88.5,608) rotate(-90)" textLength="39.2" lengthAdjust="spacingAndGlyphs">ch0LC</text>

<text transform="translate(40.5,692) rotate(-90)" textLength="18.6" lengthAdjust="spacingAndGlyphs">elb</text>
<text transform="translate(52.5,692) rotate(-90)" textLength="16.1" lengthAdjust="spacingAndGlyphs">pif</text>
<text transform="translate(64.5,692) rotate(-90)" textLength="15.7" lengthAdjust="spacingAndGlyphs">pa</text>
<text transform="translate(76.5,692) rotate(-90)" textLength="62" lengthAdjust="spacingAndGlyphs">spec2plot</text>
<text transform="translate(88.5,692) rotate(-90)" textLength="39.2" lengthAdjust="spacingAndGlyphs">ch1LC</text>

<text transform="translate(40.5,776) rotate(-90)" textLength="18.6" lengthAdjust="spacingAndGlyphs">elb</text>
<text transform="translate(52.5,776) rotate(-90)" textLength="16.1" lengthAdjust="spacingAndGlyphs">pif</text>
<text transform="translate(64.5,776) rotate(-90)" textLength="15.7" lengthAdjust="spacingAndGlyphs">pa</text>
<text transform="translate(76.5,776) rotate(-90)" textLength="62" lengthAdjust="spacingAndGlyphs">spec2plot</text>
<text transform="translate(88.5,776) rotate(-90)" textLength="39.2" lengthAdjust="spacingAndGlyphs">ch2LC</text>

<text transform="translate(49.5,861) rotate(-90)" textLength="28.1" lengthAdjust="spacingAndGlyphs">IGRF</text>
<text transform="translate(61.5,861) rotate(-90)" textLength="26" lengthAdjust="spacingAndGlyphs">[nT]</text>
</g>

<!-- right side labels -->
<text x="702" y="99.2" font-size="11.5" textLength="57" lengthAdjust="spacingAndGlyphs">proxy_AE</text>
<text transform="translate(694.5,857) rotate(-90)" font-size="6.5" text-anchor="middle" textLength="90" lengthAdjust="spacingAndGlyphs">Mon Nov 21 16:32:14 2022</text>
<g font-size="12">
<text x="700.5" y="834" fill="#000">T</text>
<text x="701" y="840" style="fill:#ff0000">D</text>
<text x="701" y="848" style="fill:#0000ff">N</text>
<text x="701" y="858" style="fill:#00e000">E</text>
</g>

<!-- bottom annotation -->
<g font-size="11.5">
<text x="8" y="921.5" textLength="80.5" lengthAdjust="spacingAndGlyphs">2021 Jul 03</text>
<text x="8" y="933.4" textLength="79.3" lengthAdjust="spacingAndGlyphs">GLON (east)</text>
<text x="8" y="945.3" textLength="93.8" lengthAdjust="spacingAndGlyphs">MLAT-igrf(dip)</text>
<text x="8" y="957.2" textLength="86.3" lengthAdjust="spacingAndGlyphs">MLT-igrf(dip)</text>
<text x="8" y="969.1" textLength="69.8" lengthAdjust="spacingAndGlyphs">L-igrf(dip)</text>
</g>
<g font-size="11.5" text-anchor="middle">
<text x="128" y="921.5" textLength="33" lengthAdjust="spacingAndGlyphs">2200</text>
<text x="314" y="921.5" textLength="33" lengthAdjust="spacingAndGlyphs">2230</text>
<text x="501" y="921.5" textLength="33" lengthAdjust="spacingAndGlyphs">2300</text>
<text x="687" y="921.5" textLength="33" lengthAdjust="spacingAndGlyphs">2330</text>

<text x="128" y="933.4" textLength="28.9" lengthAdjust="spacingAndGlyphs">56.8</text>
<text x="314" y="933.4" textLength="37.2" lengthAdjust="spacingAndGlyphs">233.7</text>
<text x="501" y="933.4" textLength="28.9" lengthAdjust="spacingAndGlyphs">57.5</text>
<text x="687" y="933.4" textLength="28.9" lengthAdjust="spacingAndGlyphs">35.6</text>

<text x="128" y="945.3" textLength="61.1" lengthAdjust="spacingAndGlyphs">6.9(45.7)</text>
<text x="314" y="945.3" textLength="69.4" lengthAdjust="spacingAndGlyphs">17.0(17.4)</text>
<text x="501" y="945.3" textLength="90.9" lengthAdjust="spacingAndGlyphs">-84.9(-79.4)</text>
<text x="687" y="945.3" textLength="69.4" lengthAdjust="spacingAndGlyphs">21.3(36.1)</text>

<text x="128" y="957.2" textLength="52.9" lengthAdjust="spacingAndGlyphs">2.0(2.5)</text>
<text x="314" y="957.2" textLength="69.4" lengthAdjust="spacingAndGlyphs">14.1(14.1)</text>
<text x="501" y="957.2" textLength="61.1" lengthAdjust="spacingAndGlyphs">22.9(0.3)</text>
<text x="687" y="957.2" textLength="52.9" lengthAdjust="spacingAndGlyphs">2.1(2.5)</text>

<text x="128" y="969.1" textLength="52.9" lengthAdjust="spacingAndGlyphs">2.4(2.2)</text>
<text x="314" y="969.1" textLength="52.9" lengthAdjust="spacingAndGlyphs">1.2(1.2)</text>
<text x="501" y="969.1" textLength="69.4" lengthAdjust="spacingAndGlyphs">14.9(31.3)</text>
<text x="687" y="969.1" textLength="52.9" lengthAdjust="spacingAndGlyphs">1.6(1.6)</text>
</g>

<!-- footer -->
<text x="590" y="987" font-size="9.5" textLength="127" lengthAdjust="spacingAndGlyphs">nflux: #/(cm^2 s sr MeV)</text>
<text x="590" y="998" font-size="9.5" textLength="181" lengthAdjust="spacingAndGlyphs">Created: Tue Nov 22 00:32:14 2022</text>
</svg>
</body></html>
